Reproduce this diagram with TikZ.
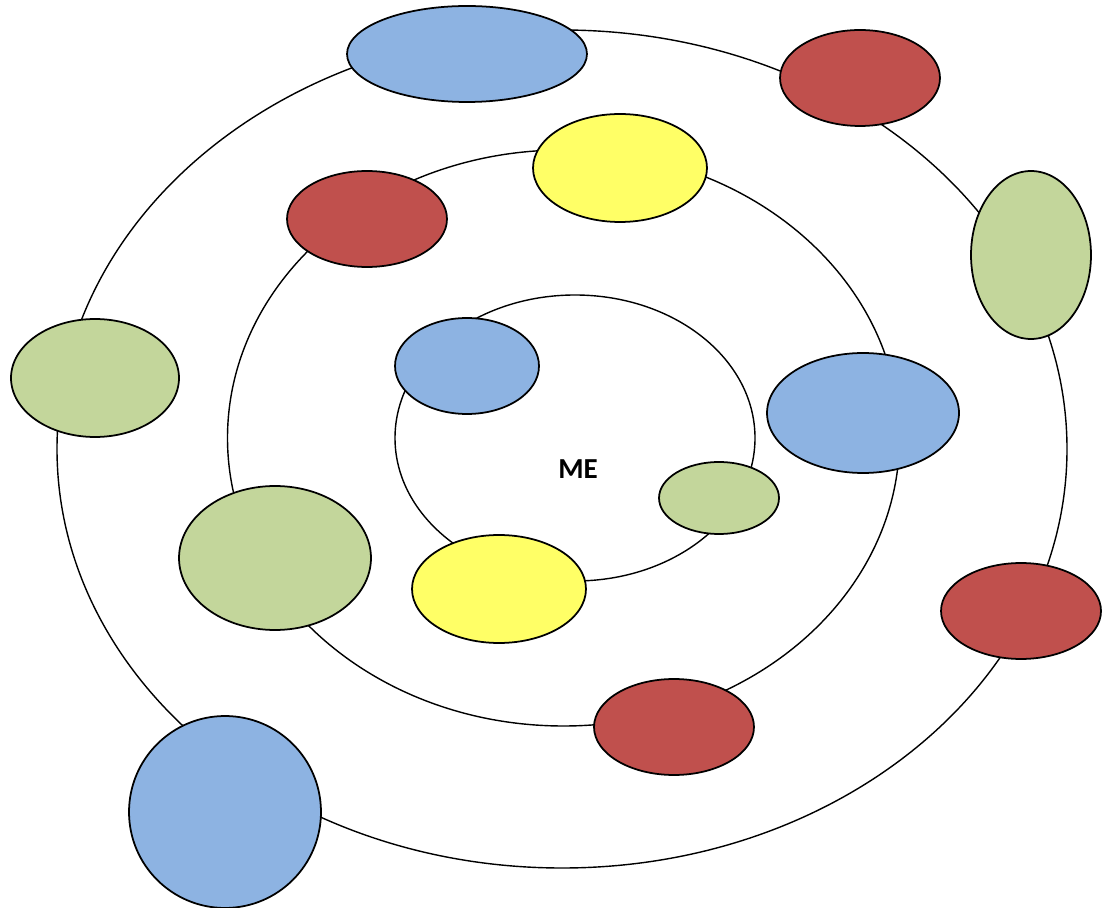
\documentclass[tikz,border=0pt]{standalone}
\usepackage{fontspec}
\setmainfont{Carlito}
\usetikzlibrary{shapes.geometric}
\definecolor{SkyBlue}{HTML}{8DB3E2}
\definecolor{Brick}{HTML}{C0504D}
\definecolor{Olive}{HTML}{C3D69B}
\definecolor{Lemon}{HTML}{FFFF66}

\tikzset{
  ring/.style={draw,line width=0.8pt},
  blob/.style={ellipse,draw,line width=1pt,inner sep=0pt},
  bluebl/.style={blob,fill=SkyBlue},
  redbl/.style={blob,fill=Brick,minimum width=3.2cm,minimum height=1.92cm},
  greenbl/.style={blob,fill=Olive},
  yellowbl/.style={blob,fill=Lemon,minimum width=3.48cm,minimum height=2.16cm},
}

\begin{document}
\begin{tikzpicture}[x=0.02cm,y=-0.02cm]
  \useasboundingbox (0,0) rectangle (1102,908);
  % the three rings
  \draw[ring] (562,449) ellipse [x radius=505,y radius=419];
  \draw[ring] (563.5,438) ellipse [x radius=336,y radius=288];
  \draw[ring] (575,438) ellipse [x radius=180,y radius=143];
  % centre
  \node[font=\fontsize{16.5}{20}\selectfont\bfseries] (me) at (578,469) {ME};
  % outer ring
  \node[bluebl,minimum width=4.8cm,minimum height=1.92cm]   (topblue)    at (467,54)  {};
  \node[redbl]                                              (topred)     at (860,78)  {};
  \node[greenbl,minimum width=2.4cm,minimum height=3.36cm]  (rightgreen) at (1031,255) {};
  \node[greenbl,minimum width=3.36cm,minimum height=2.36cm] (leftgreen)  at (95,378)  {};
  \node[redbl]                                              (rightred)   at (1021,611) {};
  \node[bluebl,circle,minimum size=3.84cm]                  (bigblue)    at (225,812) {};
  % middle ring
  \node[yellowbl]                                           (topyellow)  at (620,168) {};
  \node[redbl]                                              (midred)     at (367,219) {};
  \node[bluebl,minimum width=3.84cm,minimum height=2.4cm]   (rightblue)  at (863,413) {};
  \node[greenbl,minimum width=3.84cm,minimum height=2.88cm] (biggreen)   at (275,558) {};
  \node[redbl]                                              (lowred)     at (674,727) {};
  % inner ring
  \node[bluebl,minimum width=2.88cm,minimum height=1.92cm]  (innerblue)  at (467,366) {};
  \node[greenbl,minimum width=2.4cm,minimum height=1.44cm]  (smallgreen) at (719,498) {};
  \node[yellowbl]                                           (lowyellow)  at (499,589) {};
\end{tikzpicture}
\end{document}
